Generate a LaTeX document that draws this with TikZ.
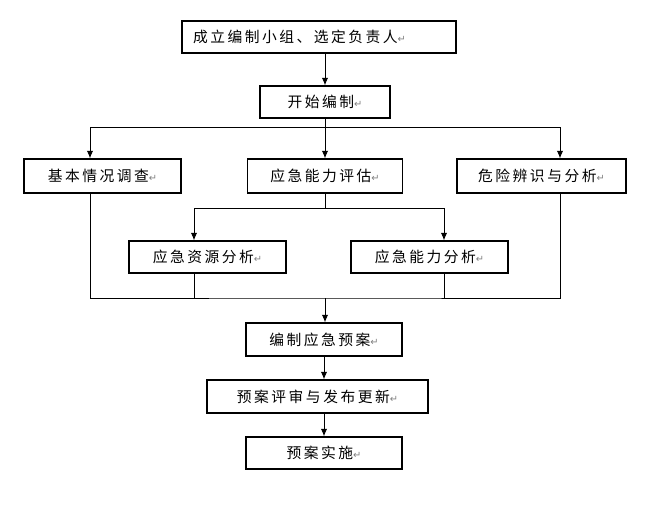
\documentclass[tikz,border=0pt]{standalone}
\usepackage{fontspec}
\newfontfamily\cjk[LetterSpace=17]{Noto Sans CJK SC}
\newfontfamily\symb{DejaVu Sans}
\usetikzlibrary{positioning, arrows.meta}
\tikzstyle{block} = [draw, rectangle, line width=0.9pt,
    minimum height=0.8cm, font=\cjk\fontsize{10.5}{12}\selectfont]
\newcommand{\retmark}{{\symb\fontsize{7}{7}\selectfont\textcolor{gray}{↵}}}

\begin{document}
\begin{tikzpicture}[auto, >={Latex[length=1.9mm,width=1.6mm]}, line width=0.65pt]

        \useasboundingbox (0,0) rectangle (16.25,-12.675);

        \node[
            block,
            text width=6.3cm,
            inner xsep=0.275cm,
            align=left
        ] (team) at (7.975,-0.925) {成立编制小组、选定负责人\retmark};

        \node[
            block,
            below of=team,
            node distance=1.625cm,
            xshift=0.15cm,
            minimum width=3.25cm
        ](start){开始编制\retmark};

        \node[
            block,
            below of=start,
            node distance=1.85cm,
            minimum width=3.875cm,
            minimum height=0.85cm
        ](assess){应急能力评估\retmark};

        \node[
            block,
            left of=assess,
            node distance=5.5625cm,
            minimum width=3.925cm,
            minimum height=0.85cm
        ](survey){基本情况调查\retmark};

        \node[
            block,
            right of=assess,
            node distance=5.4125cm,
            minimum width=4.225cm,
            minimum height=0.85cm
        ](hazard){危险辨识与分析\retmark};

        \node[
            block,
            below of=assess,
            node distance=2.025cm,
            xshift=-2.9375cm,
            minimum width=3.925cm
        ](resource){应急资源分析\retmark};

        \node[
            block,
            below of=assess,
            node distance=2.025cm,
            xshift=2.6125cm,
            minimum width=3.925cm
        ](ability){应急能力分析\retmark};

        \node[
            block,
            below of=assess,
            node distance=4.0875cm,
            xshift=-0.025cm,
            minimum width=3.9cm,
            minimum height=0.825cm
        ](plan){编制应急预案\retmark};

        \node[
            block,
            below of=plan,
            node distance=1.425cm,
            xshift=-0.1625cm,
            minimum width=5.525cm,
            minimum height=0.825cm
        ](review){预案评审与发布更新\retmark};

        \node[
            block,
            below of=review,
            node distance=1.4125cm,
            xshift=0.1625cm,
            minimum width=3.9cm
        ](implement){预案实施\retmark};

        \coordinate (fork) at (8.125,-3.175);
        \coordinate (subfork) at (8.125,-5.2);
        \coordinate (merge) at (8.125,-7.45);

        \draw[->] (start.north |- team.south) -- (start.north);
        \draw (start) -- (fork);
        \draw[->] (fork) -- (assess);
        \draw[->] (fork) -| ([xshift=-0.3125cm]survey.north);
        \draw[->] (fork) -| ([xshift=0.4625cm]hazard.north);

        \draw (assess) -- (subfork);
        \draw[->] (subfork) -| ([xshift=-0.3375cm]resource.north);
        \draw[->] (subfork) -| ([xshift=0.3625cm]ability.north);

        \draw ([xshift=-0.3125cm]survey.south) |- (merge)
            -| ([xshift=0.4625cm]hazard.south);
        \draw ([xshift=-0.3375cm]resource.south) -- ([xshift=-0.3375cm]resource.south |- merge);
        \draw ([xshift=0.3625cm]ability.south) -- ([xshift=0.3625cm]ability.south |- merge);
        \draw[->] (merge) -- (merge |- plan.north);

        \draw[->] (plan.south) -- (plan.south |- review.north);
        \draw[->] (review.south -| implement) -- (implement);
    \end{tikzpicture}
\end{document}
